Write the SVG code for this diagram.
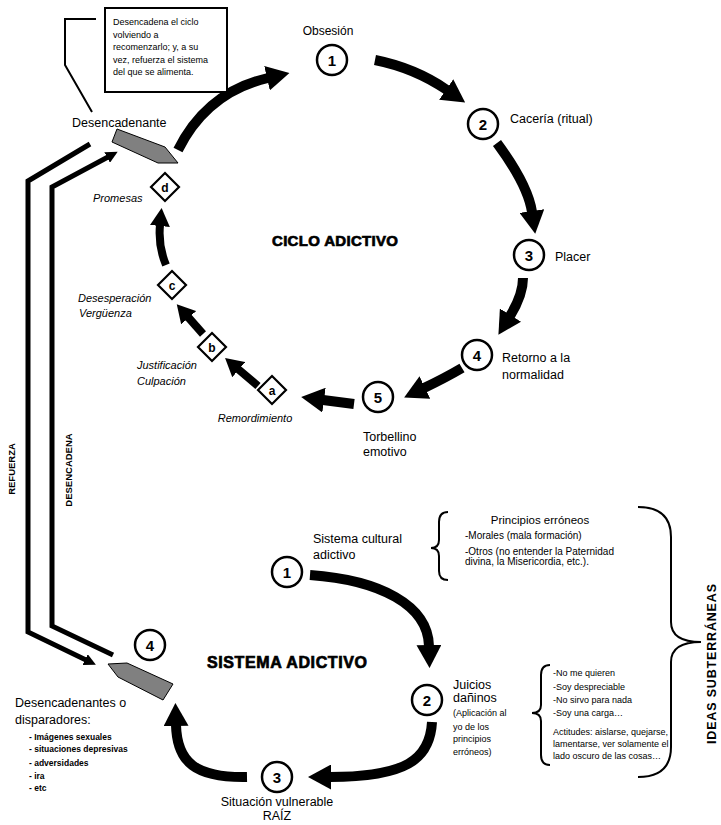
<svg xmlns="http://www.w3.org/2000/svg" width="721" height="825" viewBox="0 0 721 825">
<style>
text{font-family:"Liberation Sans",Arial,sans-serif;fill:#000}
.l{font-size:12.5px}
.s{font-size:10px}
.xs{font-size:9px}
.it{font-size:11px;font-style:italic}
.b{font-weight:bold}
.num{font-size:15px;font-weight:bold;text-anchor:middle}
.let{font-size:12px;font-weight:bold;text-anchor:middle}
.c{fill:#fff;stroke:#000;stroke-width:2.5}
.d{fill:#fff;stroke:#000;stroke-width:2.2}
.gray{fill:#808080;stroke:#000;stroke-width:1}
.arr{fill:none;stroke:#000;stroke-width:10;marker-end:url(#h)}
.arrs{fill:none;stroke:#000;stroke-width:8;marker-end:url(#hs)}
.ln{fill:none;stroke:#000;stroke-width:5;marker-end:url(#ht)}
.thin{fill:none;stroke:#000;stroke-width:2}
.title{font-weight:bold;stroke:#000;stroke-width:0.7}
</style>
<defs>
<marker id="h" markerUnits="userSpaceOnUse" markerWidth="23" markerHeight="25" viewBox="0 0 23 25" refX="1" refY="12.5" orient="auto"><path d="M0,0 L23,12.5 L0,25 z" fill="#000"/></marker>
<marker id="hs" markerUnits="userSpaceOnUse" markerWidth="18" markerHeight="20" viewBox="0 0 18 20" refX="1" refY="10" orient="auto"><path d="M0,0 L18,10 L0,20 z" fill="#000"/></marker>
<marker id="ht" markerUnits="userSpaceOnUse" markerWidth="12" markerHeight="12" viewBox="0 0 12 12" refX="1" refY="6" orient="auto"><path d="M0,0 L12,6 L0,12 z" fill="#000"/></marker>
</defs>
<rect width="721" height="825" fill="#fff"/>

<g id="connectors">
<path class="arr" d="M178,150 Q207,92 268,78"/>
<path class="arr" d="M375,60 Q415,68 447,90"/>
<path class="arr" d="M497,143 Q528,185 532,212"/>
<path class="arr" d="M523,278 Q523,295 510,316"/>
<path class="arr" d="M462,368 Q445,378 424,388"/>
<path class="arr" d="M354,404 Q338,402 323,400"/>
<path class="arrs" d="M258,386 L238,369"/>
<path class="arrs" d="M203,334 L188,317"/>
<path class="arrs" d="M166,265 Q158,246 160,225"/>
<path class="arr" d="M310,575 C380,580 428,605 429,646"/>
<path class="arr" d="M432,722 C430,760 405,777 330,777"/>
<path class="arr" d="M247,777 C195,778 177,762 176,725"/>
<path class="ln" d="M90,144 L28,181 L28,632 L86,660"/>
<path class="ln" d="M113,655 L52,626 L52,187 L108,157"/>
<polyline class="thin" points="96,19 65,19 65,65 92,112"/>
<path class="thin" d="M448,512 Q439,512 439,522 L439,540 Q439,548 431,548 Q439,548 439,556 L439,571 Q439,580 448,580"/>
<path class="thin" d="M550,665 Q541,665 541,675 L541,705 Q541,713 532,713 Q541,713 541,721 L541,755 Q541,765 550,765"/>
<path class="thin" d="M638,507 Q671,507 671,537 L671,622 Q671,642 701,642 Q671,642 671,662 L671,747 Q671,777 638,777"/>
</g>

<g id="callout">
<rect x="105" y="8" width="122" height="84" fill="#fff" stroke="#000" stroke-width="2"/>
<text class="xs" x="113" y="25">Desencadena el ciclo</text>
<text class="xs" x="113" y="37.5">volviendo a</text>
<text class="xs" x="113" y="50">recomenzarlo; y, a su</text>
<text class="xs" x="113" y="62.5">vez, refuerza el sistema</text>
<text class="xs" x="113" y="75">del que se alimenta.</text>
</g>

<g id="desencadenante">
<polygon class="gray" points="117,129 165,147 178,163 158,163 112,142"/>
<text class="l" x="72" y="127">Desencadenante</text>
</g>

<g id="c1"><circle class="c" cx="332" cy="60" r="15"/><text class="num" x="332" y="65.5">1</text><text x="328" y="35" font-size="12" text-anchor="middle">Obsesión</text></g>
<g id="c2"><circle class="c" cx="483" cy="124" r="15"/><text class="num" x="483" y="129.5">2</text><text class="l" x="510" y="123">Cacería (ritual)</text></g>
<g id="c3"><circle class="c" cx="529" cy="255" r="15"/><text class="num" x="529" y="260.5">3</text><text class="l" x="555" y="261">Placer</text></g>
<g id="c4"><circle class="c" cx="477" cy="355" r="15"/><text class="num" x="477" y="360.5">4</text><text class="l" x="502" y="362">Retorno a la</text><text class="l" x="502" y="379">normalidad</text></g>
<g id="c5"><circle class="c" cx="378" cy="397" r="15"/><text class="num" x="378" y="402.5">5</text><text class="l" x="363" y="441">Torbellino</text><text class="l" x="363" y="456">emotivo</text></g>

<g id="da"><polygon class="d" points="272,376 286,390 272,404 258,390"/><text class="let" x="272" y="394.5">a</text><text class="it" x="255" y="422" text-anchor="middle">Remordimiento</text></g>
<g id="db"><polygon class="d" points="212,333 226,347 212,361 198,347"/><text class="let" x="212" y="351.5">b</text><text class="it" x="137" y="369">Justificación</text><text class="it" x="137" y="385">Culpación</text></g>
<g id="dc"><polygon class="d" points="172,271 186,285 172,299 158,285"/><text class="let" x="172" y="289.5">c</text><text class="it" x="78" y="302">Desesperación</text><text class="it" x="79" y="317">Vergüenza</text></g>
<g id="dd"><polygon class="d" points="165,173 179,187 165,201 151,187"/><text class="let" x="165" y="191.5">d</text><text class="it" x="93" y="202">Promesas</text></g>

<g id="ciclo"><text class="title" x="272" y="246" font-size="15" textLength="126">CICLO ADICTIVO</text></g>
<g id="sistema"><text class="title" x="207" y="668" font-size="16" textLength="160">SISTEMA ADICTIVO</text></g>

<g id="s1"><circle class="c" cx="287" cy="572" r="15"/><text class="num" x="287" y="577.5">1</text><text class="l" x="313" y="543">Sistema cultural</text><text class="l" x="313" y="559">adictivo</text></g>
<g id="principios">
<text x="540" y="524" font-size="11.5" text-anchor="middle">Principios erróneos</text>
<text class="s" x="465" y="538.5">-Morales (mala formación)</text>
<text class="s" x="465" y="555">-Otros (no entender la Paternidad</text>
<text class="s" x="465" y="564.5">divina, la Misericordia, etc.).</text>
</g>
<g id="s2"><circle class="c" cx="427" cy="700" r="15"/><text class="num" x="427" y="705.5">2</text>
<text class="l" x="453" y="689">Juicios</text><text class="l" x="453" y="702">dañinos</text>
<text class="xs" x="453" y="716">(Aplicación al</text><text class="xs" x="453" y="730">yo de los</text><text class="xs" x="453" y="742">principios</text><text class="xs" x="453" y="755">erróneos)</text></g>
<g id="juicios">
<text class="xs" x="553" y="676">-No me quieren</text>
<text class="xs" x="553" y="690">-Soy despreciable</text>
<text class="xs" x="553" y="703">-No sirvo para nada</text>
<text class="xs" x="553" y="716">-Soy una carga…</text>
<text class="xs" x="553" y="735">Actitudes: aislarse, quejarse,</text>
<text class="xs" x="553" y="747">lamentarse, ver solamente el</text>
<text class="xs" x="553" y="759">lado oscuro de las cosas…</text>
</g>
<g id="s3"><circle class="c" cx="277" cy="777" r="15"/><text class="num" x="277" y="782.5">3</text><text class="l" x="277" y="806" text-anchor="middle">Situación vulnerable</text><text class="l" x="277" y="820" text-anchor="middle">RAÍZ</text></g>
<g id="s4"><circle class="c" cx="150" cy="645" r="15"/><text class="num" x="150" y="650.5">4</text>
<polygon class="gray" points="108,664 127,663 173,684 163,700 118,677"/></g>
<g id="disparadores">
<text class="l" x="15" y="707">Desencadenantes o</text>
<text class="l" x="15" y="724">disparadores:</text>
<text class="b" font-size="8.5" x="29" y="740">- Imágenes sexuales</text>
<text class="b" font-size="8.5" x="29" y="752">- situaciones depresivas</text>
<text class="b" font-size="8.5" x="29" y="766">- adversidades</text>
<text class="b" font-size="8.5" x="29" y="779">- ira</text>
<text class="b" font-size="8.5" x="29" y="791">- etc</text>
</g>
<g id="refuerza"><text class="b" font-size="9.5" transform="translate(15,469) rotate(-90)" text-anchor="middle">REFUERZA</text></g>
<g id="desencadena"><text class="b" font-size="9.5" transform="translate(71.5,470) rotate(-90)" text-anchor="middle">DESENCADENA</text></g>
<g id="ideas"><text class="b" font-size="12.5" transform="translate(716,664) rotate(-90)" text-anchor="middle" textLength="160">IDEAS SUBTERRÁNEAS</text></g>
</svg>
